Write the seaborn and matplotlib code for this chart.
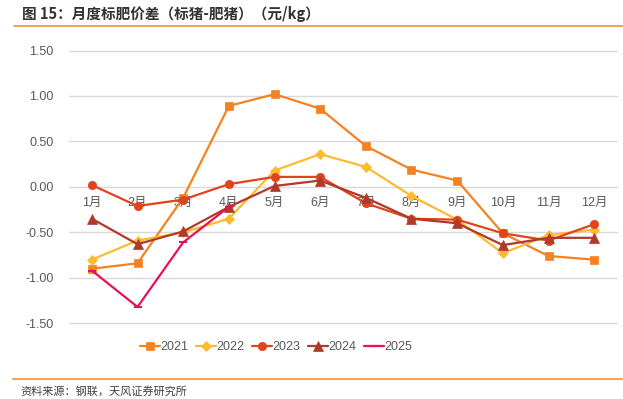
import numpy as np
import pandas as pd
import matplotlib
matplotlib.use("Agg")
import matplotlib.pyplot as plt
import seaborn as sns

sns.set_theme(style="white")
plt.rcParams['font.family'] = ['Liberation Sans', 'Noto Sans CJK SC', 'DejaVu Sans']

# 数据（元/kg）
months = ["1月", "2月", "3月", "4月", "5月", "6月", "7月", "8月", "9月", "10月", "11月", "12月"]
y2021 = [-0.90, -0.84, -0.12, 0.89, 1.02, 0.86, 0.45, 0.19, 0.07, -0.51, -0.76, -0.80]
y2022 = [-0.80, -0.59, -0.50, -0.35, 0.18, 0.36, 0.22, -0.10, -0.36, -0.73, -0.53, -0.47]
y2023 = [0.02, -0.21, -0.14, 0.03, 0.11, 0.11, -0.18, -0.35, -0.36, -0.51, -0.59, -0.41]
y2024 = [-0.35, -0.63, -0.49, -0.22, 0.01, 0.07, -0.12, -0.35, -0.40, -0.64, -0.56, -0.56]
y2025 = [-0.92, -1.32, -0.61, -0.22]
yticks = [-1.5, -1.0, -0.5, 0.0, 0.5, 1.0, 1.5]

series = [
    ("2021", y2021, "#F58220", "s", 6),
    ("2022", y2022, "#FDBB2F", "D", 5),
    ("2023", y2023, "#E0441C", "o", 6),
    ("2024", y2024, "#B0392A", "^", 6.5),
    ("2025", y2025, "#E8105A", "_", 6),
]

fig = plt.figure(figsize=(6.23, 3.99), dpi=100)
ax = fig.add_axes([69 / 623, 1 - 323.3 / 399, 548 / 623, 272.8 / 399])

for name, vals, color, mk, ms in series:
    df = pd.DataFrame({"month": months[:len(vals)], "value": vals})
    sns.lineplot(data=df, x="month", y="value", ax=ax, color=color, marker=mk,
                 markersize=ms, markeredgecolor=color, markeredgewidth=1.5 if mk == "_" else 0.5,
                 linewidth=1.6, label=name, sort=False)

ax.set_xlim(-0.5, 11.5)
ax.set_ylim(-1.5, 1.5)
ax.set_yticks(yticks)
ax.set_yticklabels([f"{v:.2f}" for v in yticks])
for v in yticks:
    if v != 0:
        ax.axhline(v, color="#D9D9D9", lw=1, zorder=0, clip_on=False)

for s in ["top", "right", "left"]:
    ax.spines[s].set_visible(False)
ax.spines["bottom"].set_position(("data", 0))
ax.spines["bottom"].set_color("#D9D9D9")
ax.spines["bottom"].set_linewidth(1)
ax.spines["bottom"].set_zorder(0)
ax.tick_params(axis="x", length=0, pad=7, labelsize=9, labelcolor="#595959")
ax.tick_params(axis="y", length=0, pad=11, labelsize=9, labelcolor="#595959")
ax.set_xlabel("")
ax.set_ylabel("")

handles, labels = ax.get_legend_handles_labels()
ax.legend(handles, labels, loc="center", bbox_to_anchor=(276 / 623, 1 - 347 / 399),
          bbox_transform=fig.transFigure, ncol=5, frameon=False, fontsize=9,
          labelcolor="#595959", handlelength=1.6, handletextpad=0.05, columnspacing=0.6)

fig.text(22 / 623, 1 - 14 / 399, "图 15：月度标肥价差（标猪-肥猪）（元/kg）", fontsize=10.5,
         color="#333333", va="center", ha="left", fontweight="bold",
         family=["Noto Sans CJK SC", "DejaVu Sans"])
fig.add_artist(plt.Line2D([14 / 623, 1], [1 - 25.5 / 399] * 2, transform=fig.transFigure,
                          color="#F3A360", lw=1.5))
fig.add_artist(plt.Line2D([13 / 623, 1], [1 - 379 / 399] * 2, transform=fig.transFigure,
                          color="#F3A360", lw=1.5))
fig.text(20 / 623, 1 - 391 / 399, "资料来源：钢联，天风证券研究所", fontsize=8,
         color="#404040", va="center", ha="left", family=["Noto Sans CJK SC", "DejaVu Sans"])

fig.savefig("out.png", dpi=100, facecolor="white")
